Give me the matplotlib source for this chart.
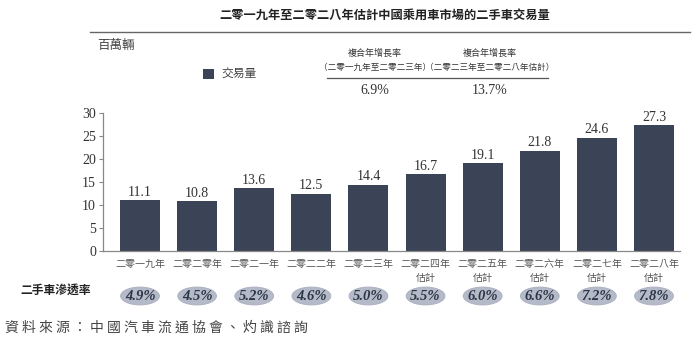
import matplotlib
matplotlib.use("Agg")
import matplotlib.pyplot as plt
from matplotlib.patches import Ellipse, Rectangle
from matplotlib.lines import Line2D

plt.rcParams['font.family'] = ['Liberation Serif', 'Noto Sans CJK TC', 'DejaVu Sans']

# ---- data ----
years = ["二零一九年", "二零二零年", "二零二一年", "二零二二年", "二零二三年",
         "二零二四年\n估計", "二零二五年\n估計", "二零二六年\n估計", "二零二七年\n估計", "二零二八年\n估計"]
volume = [11.1, 10.8, 13.6, 12.5, 14.4, 16.7, 19.1, 21.8, 24.6, 27.3]
penetration = ["4.9%", "4.5%", "5.2%", "4.6%", "5.0%", "5.5%", "6.0%", "6.6%", "7.2%", "7.8%"]
cagr_titles = ["複合年增長率", "複合年增長率"]
cagr_periods = ["（二零一九年至二零二三年）", "（二零二三年至二零二八年估計）"]
cagr_values = ["6.9%", "13.7%"]
title = "二零一九年至二零二八年估計中國乘用車市場的二手車交易量"
unit = "百萬輛"
legend_label = "交易量"
row_label = "二手車滲透率"
source = "資料來源：中國汽車流通協會、灼識諮詢"
yticks = [0, 5, 10, 15, 20, 25, 30]

W, H = 700, 347
BAR = "#3b4456"
TXT = "#333333"

def fx(x): return x / W
def fy(y): return 1 - y / H

fig = plt.figure(figsize=(7, 3.47), dpi=100)
fig.patch.set_facecolor("white")

ax = fig.add_axes([fx(103), fy(251), fx(680) - fx(103), fy(113) - fy(251)])
x = list(range(len(volume)))
bars = ax.bar(x, volume, width=0.7, color=BAR, zorder=2)
ax.set_xlim(-0.648, 9.455)
ax.set_ylim(0, 30)
ax.set_yticks(yticks)
ax.set_yticklabels([str(v) for v in yticks], fontsize=10, color=TXT, family='Liberation Serif')
ax.tick_params(axis='y', length=3, width=0.8, color="#888888", pad=2)
ax.set_xticks(x)
ax.set_xticklabels(years, fontsize=7.2, color="#555555", family=['Noto Sans CJK TC'],
                   linespacing=1.45)
ax.tick_params(axis='x', length=0, pad=6)
for s in ["top", "right"]:
    ax.spines[s].set_visible(False)
for s in ["left", "bottom"]:
    ax.spines[s].set_color("#888888")
    ax.spines[s].set_linewidth(0.9)
for b, v in zip(bars, volume):
    ax.annotate(f"{v:.1f}", (b.get_x() + b.get_width() / 2, v), xytext=(0, 1),
                textcoords="offset points", ha="center", va="bottom",
                fontsize=10, color=TXT, family='Liberation Serif')

# ---- penetration row ----
ax2 = fig.add_axes([fx(103), fy(312), fx(680) - fx(103), fy(280) - fy(312)])
ax2.set_xlim(ax.get_xlim())
ax2.set_ylim(0, 1)
ax2.axis("off")
for i, p in enumerate(penetration):
    ax2.add_patch(Ellipse((i, 0.5), 0.68, 0.56, facecolor="#b5bac9", edgecolor="#a9aebe", lw=0.6))
    ax2.text(i, 0.5, p, ha="center", va="center", fontsize=10.5, fontweight="bold",
             style="italic", color="#2c3545", family='Liberation Serif')

fig.text(fx(20), fy(290), row_label, ha="left", va="center", fontsize=8.5,
         fontweight="bold", color="#222222", family=['Noto Sans CJK TC'])

# ---- title and header ----
fig.text(fx(385), fy(15), title, ha="center", va="center", fontsize=8.8,
         fontweight="bold", color="#222222", family=['Noto Sans CJK TC'])
fig.add_artist(Line2D([fx(90), fx(690)], [fy(32), fy(32)], color="#666666", lw=1.0))
fig.text(fx(97), fy(46), unit, ha="left", va="center", fontsize=9, style="italic",
         color="#444444", family=['Noto Sans CJK TC'])

# legend
fig.add_artist(Rectangle((fx(203), fy(79)), fx(11), fy(0) - fy(10), transform=fig.transFigure,
                         facecolor=BAR, edgecolor="none"))
fig.text(fx(221), fy(74), legend_label, ha="left", va="center", fontsize=8.5,
         color="#444444", family=['Noto Sans CJK TC'])

# CAGR block
cx = [375, 490]
for c, t, p, v in zip(cx, cagr_titles, cagr_periods, cagr_values):
    fig.text(fx(c), fy(53), t, ha="center", va="center", fontsize=6.5,
             color="#333333", family=['Noto Sans CJK TC'])
    fig.text(fx(c), fy(67), p, ha="center", va="center", fontsize=6.2,
             color="#333333", family=['Noto Sans CJK TC'])
    fig.text(fx(c), fy(90), v, ha="center", va="center", fontsize=10,
             color=TXT, family=['Liberation Serif', 'Noto Sans CJK TC'])
fig.add_artist(Line2D([fx(327), fx(548)], [fy(78), fy(78)], color="#555555", lw=0.9))

# source
fig.text(fx(5), fy(328), " ".join(source), ha="left", va="center", fontsize=10,
         color="#444444", family=['Noto Sans CJK TC'])

fig.savefig("out.png", dpi=100, facecolor="white")
